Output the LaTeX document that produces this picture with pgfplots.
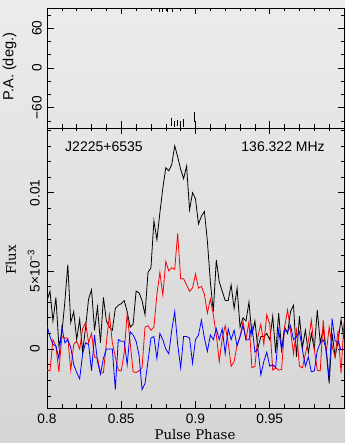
\documentclass[border=0pt]{standalone}
\usepackage{pgfplots}
\pgfplotsset{compat=1.18}
\usepackage{pgfplotstable}
\usepackage{fontspec}
\setmainfont{Liberation Sans}
\newfontfamily\seriflabel{DejaVu Serif}
\definecolor{bgtop}{RGB}{236,236,236}
\definecolor{bgbot}{RGB}{213,213,213}

% flux in units of 1e-3
\pgfplotstableread{
x I L V
0.800 3.1 -1.35 1.5
0.802 3.7 -1.4 0.8
0.804 1.8 0.6 0.3
0.806 3.3 0.2 0.2
0.808 0.2 -1.45 -0.6
0.810 1.0 0.8 1.4
0.812 3.0 0.7 0.4
0.814 5.4 0.7 0.6
0.816 1.7 -1.35 0.1
0.818 2.4 0.3 -1.0
0.820 0.6 0.5 -1.5
0.822 1.9 0.0 -1.9
0.824 -0.2 1.3 -0.3
0.826 1.4 1.7 0.4
0.828 3.2 0.4 0.3
0.830 3.8 1.0 -1.4
0.832 1.2 -0.5 0.9
0.834 2.7 -0.6 -0.8
0.836 0.4 -1.55 -1.6
0.838 3.3 -1.5 -0.6
0.840 1.8 0.4 0.0
0.842 1.4 2.2 0.0
0.844 1.2 0.4 0.0
0.846 2.6 -0.5 -2.6
0.848 2.8 -1.35 0.6
0.850 2.9 -1.4 0.5
0.852 3.1 -0.2 0.5
0.854 2.4 2.3 -1.0
0.856 1.4 0.4 1.1
0.858 1.6 -1.45 0.9
0.860 3.7 -1.5 0.5
0.862 3.6 -1.4 -0.4
0.864 3.1 -1.2 -2.6
0.866 2.2 1.4 -2.2
0.868 4.9 1.5 -0.8
0.870 5.2 1.2 0.7
0.872 8.2 1.4 0.8
0.874 7.0 3.5 -0.6
0.876 8.7 4.9 1.0
0.878 10.3 3.45 0.6
0.880 11.6 5.6 0.0
0.882 11.4 5.0 -0.3
0.884 11.8 5.2 1.2
0.886 13.0 5.1 2.4
0.888 12.3 7.4 0.3
0.890 11.5 4.5 -1.2
0.892 10.9 4.5 0.8
0.894 11.7 4.1 0.8
0.896 8.9 3.7 0.7
0.898 10.0 3.9 -0.9
0.900 9.6 4.8 0.6
0.902 8.0 3.9 0.9
0.904 8.5 4.0 1.85
0.906 8.8 3.5 0.7
0.908 6.9 2.3 -0.15
0.910 4.3 3.2 0.9
0.912 2.4 2.2 0.6
0.914 5.7 0.9 1.3
0.916 4.3 -0.8 0.6
0.918 3.7 0.7 1.3
0.920 3.1 1.5 -0.3
0.922 3.1 0.4 1.3
0.924 4.1 -1.1 0.6
0.926 2.6 -0.8 1.2
0.928 3.9 0.25 0.2
0.930 1.4 0.8 0.8
0.932 2.0 1.75 1.5
0.934 1.8 0.6 0.6
0.936 3.0 1.75 0.6
0.938 0.9 -1.2 1.5
0.940 1.8 -1.1 -0.2
0.942 0.05 0.8 0.0
0.944 0.8 1.6 -1.65
0.946 0.8 0.3 -0.8
0.948 1.0 2.2 -0.2
0.950 0.6 1.6 -1.1
0.952 2.1 -1.35 -1.0
0.954 -0.25 -1.2 -1.2
0.956 2.3 -1.35 1.2
0.958 -0.05 -1.3 -0.05
0.960 1.4 1.4 1.2
0.962 1.0 2.5 1.1
0.964 2.4 1.2 1.5
0.966 2.8 -0.3 0.6
0.968 -0.5 1.2 0.8
0.970 2.1 -1.1 1.1
0.972 0.1 -1.2 -0.05
0.974 1.2 -0.3 -1.1
0.976 -0.25 0.5 -0.5
0.978 1.0 1.85 -1.45
0.980 0.0 0.0 -1.4
0.982 2.5 -1.35 -0.1
0.984 0.4 -1.4 0.4
0.986 1.3 1.85 0.6
0.988 -0.1 -0.3 0.0
0.990 -2.2 1.4 -1.9
0.992 1.0 0.2 1.95
0.994 -0.5 -0.5 0.5
0.996 0.5 1.2 0.5
0.998 1.9 -1.55 -0.05
1.000 0.6 1.7 0.0
}\profile

\pgfplotstableread{
x y e
0.8759 88 3
0.8777 88 3
0.8811 88 3
0.8844 88 3
0.8838 -82 6
0.8856 -84.6 5
0.8876 -83 4.5
0.8896 -84 4.5
0.8916 -83.5 6
0.8995 -74 7
}\pa

\pgfplotsset{
  myax/.style={
    scale only axis,
    xmin=0.8, xmax=1.0,
    tick align=inside,
    major tick length=6.5pt,
    minor tick length=3.5pt,
    every tick/.style={black, line width=0.6pt},
    axis line style={line width=0.8pt},
    xtick={0.8,0.85,0.9,0.95,1.0},
    minor xtick={0.81,0.82,0.83,0.84,0.86,0.87,0.88,0.89,0.91,0.92,0.93,0.94,0.96,0.97,0.98,0.99},
    ticklabel style={font=\fontsize{13.7}{16}\selectfont},
    yticklabel style={rotate=90, anchor=south},
  }
}

\begin{document}
\begin{tikzpicture}[x=1pt,y=1pt]
\shade[top color=bgtop, bottom color=bgbot] (0,0) rectangle (345,443);
\useasboundingbox (0,0) rectangle (345,443);

\begin{axis}[myax,
  at={(47pt,315pt)}, anchor=south west,
  width=297pt, height=120pt,
  ymin=-90.7, ymax=90.7,
  ytick={-60,0,60}, yticklabels={−60,0,60},
  minor ytick={-80,-40,-20,20,40,80},
  xticklabels={},
  yticklabel shift=1.7pt,
]
\addplot[draw=none, mark=none,
  error bars/.cd, y dir=both, y explicit, error mark=none,
  error bar style={draw=black, line width=0.7pt}]
  table[x=x, y=y, y error=e] {\pa};
\end{axis}

\begin{axis}[myax,
  at={(47pt,35pt)}, anchor=south west,
  width=297pt, height=280pt,
  ymin=-3.77, ymax=14.14,
  ytick={0,5,10}, yticklabels={0,5×10\textsuperscript{−3},0.01},
  minor ytick={-3,-2,-1,1,2,3,4,6,7,8,9,11,12,13,14},
  xticklabels={0.8,0.85,0.9,0.95,{}},
  xticklabel shift=2.7pt,
  yticklabel shift=3.7pt,
]
\addplot[black, line width=0.8pt] table[x=x, y=I] {\profile};
\addplot[red, line width=0.8pt] table[x=x, y=L] {\profile};
\addplot[blue, line width=0.8pt] table[x=x, y=V] {\profile};
\node[anchor=base west, font=\fontsize{14}{16}\selectfont] at (rel axis cs:0.0495,0.9154) {J2225+6535};
\node[anchor=base east, font=\fontsize{14}{16}\selectfont] at (rel axis cs:0.947,0.9154) {136.322 MHz};
\end{axis}

\node[rotate=90, font=\fontsize{14.6}{16}\selectfont] at (9.5,376.3) {P.A. (deg.)};
\node[rotate=90, font=\seriflabel\fontsize{13.3}{16}\selectfont] at (11,183) {Flux};
\node[anchor=base, font=\seriflabel\fontsize{13.3}{16}\selectfont] at (195,3) {Pulse Phase};
\end{tikzpicture}
\end{document}
